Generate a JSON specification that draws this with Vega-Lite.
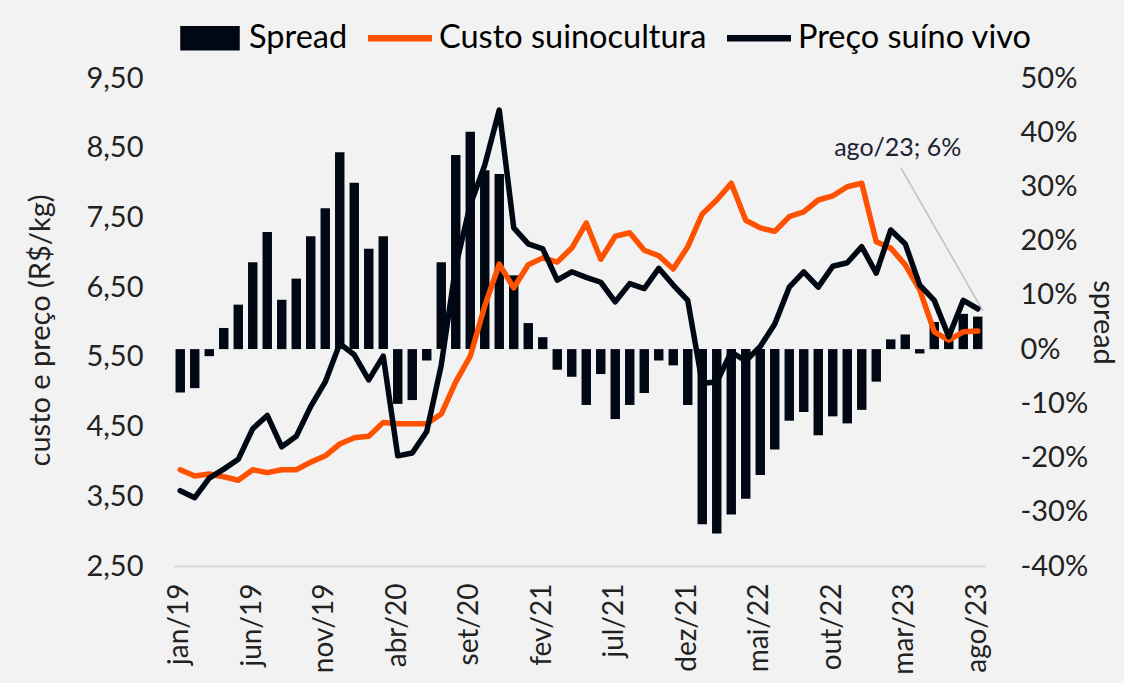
{
  "$schema": "https://vega.github.io/schema/vega-lite/v6.json",
  "width": 812,
  "height": 488,
  "autosize": "none",
  "padding": {"left": 173, "top": 78, "right": 139, "bottom": 117},
  "background": "#f2f2f2",
  "config": {
    "view": {"stroke": null},
    "font": "Lato",
    "axis": {"labelColor": "#222222", "titleColor": "#222222", "grid": false, "ticks": false, "tickSize": 0, "domain": false, "labelFont": "Lato", "titleFont": "Lato", "titleFontWeight": "normal"}
  },
  "data": {
    "values": [
      {"m": "jan/19", "spread": -8.0, "custo": 3.88, "preco": 3.58},
      {"m": "fev/19", "spread": -7.2, "custo": 3.79, "preco": 3.48},
      {"m": "mar/19", "spread": -1.3, "custo": 3.82, "preco": 3.76},
      {"m": "abr/19", "spread": 3.9, "custo": 3.78, "preco": 3.89},
      {"m": "mai/19", "spread": 8.2, "custo": 3.73, "preco": 4.03},
      {"m": "jun/19", "spread": 16.0, "custo": 3.88, "preco": 4.47},
      {"m": "jul/19", "spread": 21.6, "custo": 3.84, "preco": 4.66},
      {"m": "ago/19", "spread": 9.1, "custo": 3.88, "preco": 4.21},
      {"m": "set/19", "spread": 13.0, "custo": 3.88, "preco": 4.36},
      {"m": "out/19", "spread": 20.8, "custo": 3.99, "preco": 4.79},
      {"m": "nov/19", "spread": 26.0, "custo": 4.08, "preco": 5.14},
      {"m": "dez/19", "spread": 36.3, "custo": 4.25, "preco": 5.69},
      {"m": "jan/20", "spread": 30.7, "custo": 4.34, "preco": 5.53},
      {"m": "fev/20", "spread": 18.5, "custo": 4.36, "preco": 5.17},
      {"m": "mar/20", "spread": 20.8, "custo": 4.56, "preco": 5.51},
      {"m": "abr/20", "spread": -10.1, "custo": 4.54, "preco": 4.08},
      {"m": "mai/20", "spread": -9.4, "custo": 4.54, "preco": 4.12},
      {"m": "jun/20", "spread": -2.1, "custo": 4.54, "preco": 4.43},
      {"m": "jul/20", "spread": 16.0, "custo": 4.68, "preco": 5.38},
      {"m": "ago/20", "spread": 35.8, "custo": 5.14, "preco": 6.8},
      {"m": "set/20", "spread": 40.1, "custo": 5.51, "preco": 7.68},
      {"m": "out/20", "spread": 33.0, "custo": 6.23, "preco": 8.25},
      {"m": "nov/20", "spread": 32.3, "custo": 6.83, "preco": 9.04},
      {"m": "dez/20", "spread": 13.6, "custo": 6.49, "preco": 7.35},
      {"m": "jan/21", "spread": 4.8, "custo": 6.82, "preco": 7.12},
      {"m": "fev/21", "spread": 2.2, "custo": 6.92, "preco": 7.05},
      {"m": "mar/21", "spread": -3.8, "custo": 6.86, "preco": 6.6},
      {"m": "abr/21", "spread": -5.1, "custo": 7.06, "preco": 6.72},
      {"m": "mai/21", "spread": -10.3, "custo": 7.42, "preco": 6.64},
      {"m": "jun/21", "spread": -4.6, "custo": 6.9, "preco": 6.57},
      {"m": "jul/21", "spread": -12.9, "custo": 7.23, "preco": 6.29},
      {"m": "ago/21", "spread": -10.3, "custo": 7.28, "preco": 6.55},
      {"m": "set/21", "spread": -8.1, "custo": 7.03, "preco": 6.48},
      {"m": "out/21", "spread": -2.1, "custo": 6.95, "preco": 6.77},
      {"m": "nov/21", "spread": -3.0, "custo": 6.76, "preco": 6.53},
      {"m": "dez/21", "spread": -10.3, "custo": 7.08, "preco": 6.31},
      {"m": "jan/22", "spread": -32.3, "custo": 7.55, "preco": 5.12},
      {"m": "fev/22", "spread": -34.0, "custo": 7.75, "preco": 5.14},
      {"m": "mar/22", "spread": -30.5, "custo": 7.99, "preco": 5.57},
      {"m": "abr/22", "spread": -27.6, "custo": 7.46, "preco": 5.44},
      {"m": "mai/22", "spread": -23.2, "custo": 7.35, "preco": 5.65},
      {"m": "jun/22", "spread": -18.5, "custo": 7.3, "preco": 5.97},
      {"m": "jul/22", "spread": -13.2, "custo": 7.51, "preco": 6.5},
      {"m": "ago/22", "spread": -11.6, "custo": 7.58, "preco": 6.72},
      {"m": "set/22", "spread": -15.9, "custo": 7.75, "preco": 6.5},
      {"m": "out/22", "spread": -12.4, "custo": 7.81, "preco": 6.8},
      {"m": "nov/22", "spread": -13.7, "custo": 7.94, "preco": 6.85},
      {"m": "dez/22", "spread": -11.2, "custo": 7.99, "preco": 7.08},
      {"m": "jan/23", "spread": -6.0, "custo": 7.15, "preco": 6.7},
      {"m": "fev/23", "spread": 1.8, "custo": 7.06, "preco": 7.32},
      {"m": "mar/23", "spread": 2.7, "custo": 6.82, "preco": 7.12},
      {"m": "abr/23", "spread": -0.8, "custo": 6.46, "preco": 6.53},
      {"m": "mai/23", "spread": 5.0, "custo": 5.86, "preco": 6.31},
      {"m": "jun/23", "spread": 2.5, "custo": 5.74, "preco": 5.79},
      {"m": "jul/23", "spread": 6.5, "custo": 5.86, "preco": 6.31},
      {"m": "ago/23", "spread": 6.0, "custo": 5.87, "preco": 6.19}
    ]
  },
  "encoding": {
    "x": {
      "field": "m",
      "type": "ordinal",
      "sort": null,
      "scale": {"paddingInner": 0.35, "paddingOuter": 0.175},
      "axis": {
        "title": null,
        "values": ["jan/19", "jun/19", "nov/19", "abr/20", "set/20", "fev/21", "jul/21", "dez/21", "mai/22", "out/22", "mar/23", "ago/23"],
        "labelAngle": 270,
        "labelFontSize": 28,
        "labelPadding": 17,
        "domain": true,
        "domainColor": "#d9d9d9",
        "domainWidth": 2
      }
    }
  },
  "layer": [
    {
      "encoding": {
        "y": {
          "field": "spread",
          "type": "quantitative",
          "scale": {"domain": [-40, 50], "nice": false, "zero": false},
          "axis": {
            "orient": "right",
            "title": "spread",
            "values": [-40, -30, -20, -10, 0, 10, 20, 30, 40, 50],
            "labelExpr": "datum.value + '%'",
            "labelAlign": "left",
            "labelPadding": 35,
            "labelFontSize": 29,
            "titleFontSize": 29,
            "titleAngle": 90,
            "titleX": 117,
            "titleY": 244,
            "titleAlign": "center",
            "titleBaseline": "middle"
          }
        }
      },
      "layer": [
        {
          "mark": {"type": "bar", "color": "#000814"},
          "encoding": {
            "color": {
              "datum": "Spread",
              "type": "nominal",
              "scale": {"domain": ["Spread", "Custo suinocultura", "Preço suíno vivo"], "range": ["#000814", "#ff5200", "#000814"]},
              "legend": {
                "orient": "none",
                "legendX": 5,
                "legendY": -72,
                "direction": "horizontal",
                "title": null,
                "labelFontSize": 32.5,
                "labelFont": "Lato",
                "labelColor": "#000000",
                "labelLimit": 0,
                "symbolSize": 4096,
                "columnPadding": 20,
                "labelOffset": 7,
                "padding": 0,
                "symbolStrokeWidth": 0,
                "encode": {
                  "symbols": {
                    "update": {
                      "shape": {"signal": "datum.value === 'Spread' ? 'M-0.93,-0.38H0.93V0.38H-0.93Z' : 'M-1,-0.1H1V0.1H-1Z'"},
                      "fill": {"signal": "datum.value === 'Custo suinocultura' ? '#ff5200' : '#000814'"},
                      "strokeWidth": {"value": 0},
                      "opacity": {"value": 1}
                    }
                  }
                }
              }
            }
          }
        },
        {
          "transform": [{"filter": "datum.m === 'ago/23'"}],
          "mark": {"type": "rule", "color": "#c0c0c0", "strokeWidth": 1.5, "xOffset": 5, "yOffset": -6, "x2Offset": -77, "y2Offset": -149},
          "encoding": {
            "x2": {"field": "m"},
            "y2": {"field": "spread"}
          }
        },
        {
          "transform": [{"filter": "datum.m === 'ago/23'"}],
          "mark": {"type": "text", "dx": -80, "dy": -169, "fontSize": 25, "font": "Lato", "color": "#1c2333", "align": "center", "baseline": "middle"},
          "encoding": {
            "text": {"value": "ago/23; 6%"}
          }
        }
      ]
    },
    {
      "layer": [
        {
          "mark": {"type": "line", "strokeWidth": 5.5, "strokeJoin": "round", "strokeCap": "round"},
          "encoding": {
            "y": {
              "field": "custo",
              "type": "quantitative",
              "scale": {"domain": [2.5, 9.5], "nice": false, "zero": false},
              "axis": {
                "title": "custo e preço (R$/kg)",
                "values": [2.5, 3.5, 4.5, 5.5, 6.5, 7.5, 8.5, 9.5],
                "labelExpr": "replace(format(datum.value, '.2f'), '.', ',')",
                "labelPadding": 30,
                "labelFontSize": 29,
                "titleFontSize": 29,
                "titleAngle": 270,
                "titleX": -133,
                "titleY": 252,
                "titleAlign": "center",
                "titleBaseline": "middle"
              }
            },
            "color": {"datum": "Custo suinocultura", "type": "nominal"}
          }
        },
        {
          "mark": {"type": "line", "strokeWidth": 5.5, "strokeJoin": "round", "strokeCap": "round"},
          "encoding": {
            "y": {
              "field": "preco",
              "type": "quantitative",
              "axis": {
                "title": "custo e preço (R$/kg)",
                "values": [2.5, 3.5, 4.5, 5.5, 6.5, 7.5, 8.5, 9.5],
                "labelExpr": "replace(format(datum.value, '.2f'), '.', ',')",
                "labelPadding": 30,
                "labelFontSize": 29,
                "titleFontSize": 29,
                "titleAngle": 270,
                "titleX": -133,
                "titleY": 252,
                "titleAlign": "center",
                "titleBaseline": "middle"
              }
            },
            "color": {"datum": "Preço suíno vivo", "type": "nominal"}
          }
        }
      ]
    }
  ],
  "resolve": {"scale": {"y": "independent"}}
}
